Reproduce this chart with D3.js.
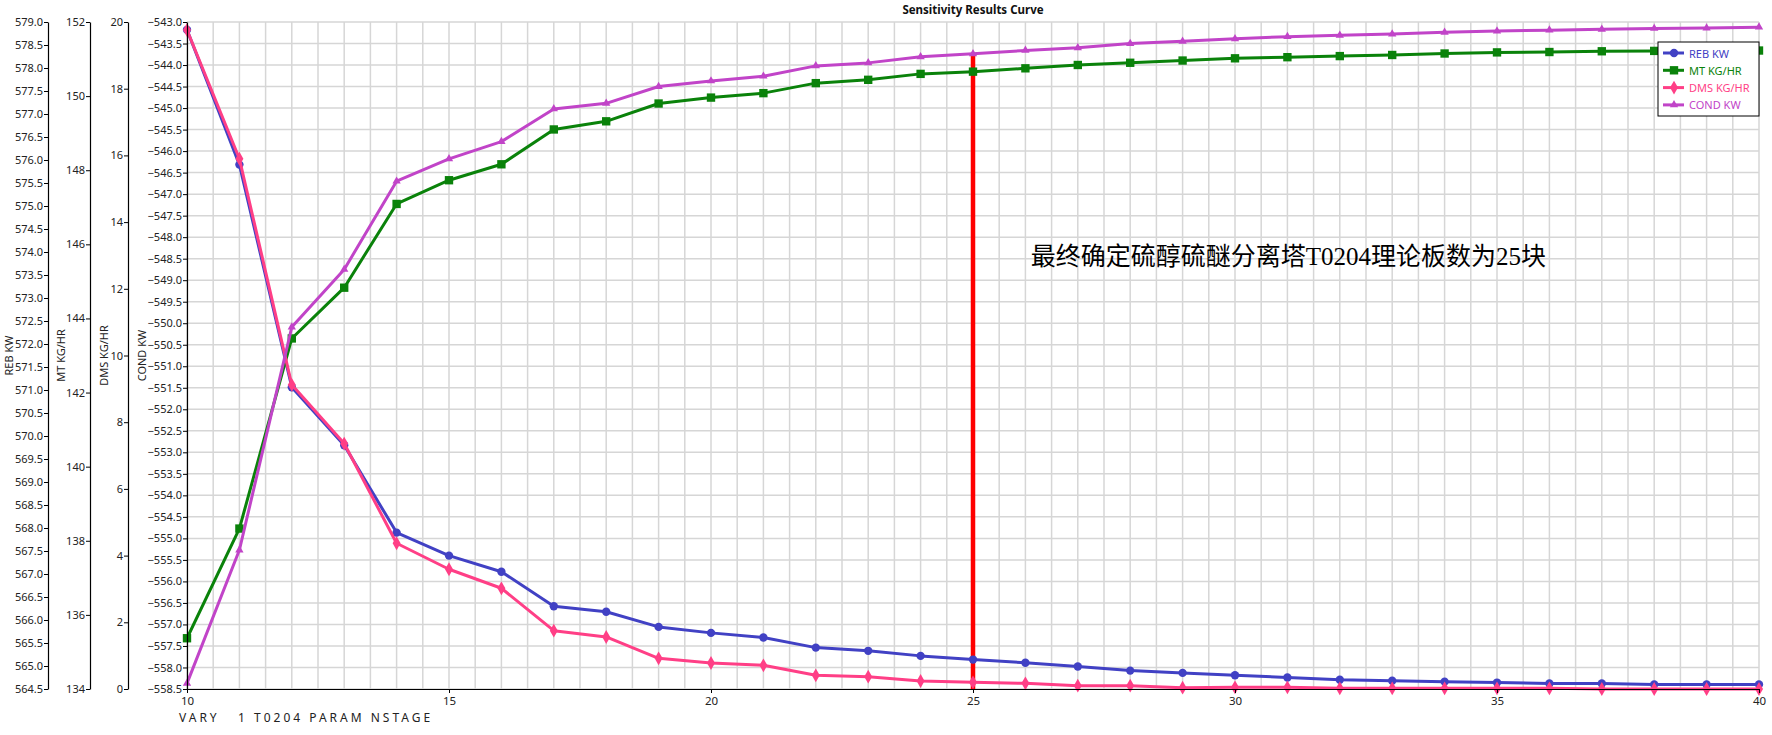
<!DOCTYPE html>
<html>
<head>
<meta charset="utf-8">
<script src="https://cdn.jsdelivr.net/npm/d3@7"></script>
<style>
  html, body { margin: 0; padding: 0; background: #fff; }
  svg { display: block; font-family: "Noto Sans", "Open Sans", sans-serif; }
</style>
</head>
<body>
<div id="chart"></div>
<script>
// ---- data ----
const stages = [10, 11, 12, 13, 14, 15, 16, 17, 18, 19, 20, 21, 22, 23, 24, 25,
  26, 27, 28, 29, 30, 31, 32, 33, 34, 35, 36, 37, 38, 39, 40];

const reb = [578.83, 575.9, 571.06, 569.8, 567.9, 567.4, 567.05, 566.3, 566.18, 565.85,
  565.72, 565.62, 565.4, 565.33, 565.22, 565.14, 565.07, 564.99, 564.9, 564.85,
  564.8, 564.75, 564.7, 564.68, 564.66, 564.64, 564.62, 564.62, 564.6, 564.6, 564.6];

const mt = [135.37, 138.33, 143.46, 144.83, 147.09, 147.73, 148.16, 149.1, 149.32, 149.8,
  149.96, 150.08, 150.35, 150.44, 150.6, 150.66, 150.75, 150.84, 150.9, 150.96,
  151.02, 151.05, 151.08, 151.11, 151.15, 151.18, 151.19, 151.21, 151.22, 151.22, 151.23];

const dms = [19.76, 15.9, 9.12, 7.36, 4.37, 3.59, 3.02, 1.75, 1.56, 0.92,
  0.78, 0.71, 0.41, 0.37, 0.24, 0.2, 0.17, 0.1, 0.1, 0.04,
  0.05, 0.05, 0.02, 0.02, 0.02, 0.02, 0.02, 0.0, 0.0, 0.0, 0.0];

const cond = [-558.37, -555.27, -550.09, -548.75, -546.7, -546.18, -545.78, -545.02, -544.89, -544.5,
  -544.37, -544.26, -544.02, -543.95, -543.81, -543.74, -543.66, -543.6, -543.5, -543.45,
  -543.39, -543.34, -543.31, -543.28, -543.24, -543.21, -543.19, -543.17, -543.15, -543.14, -543.12];

const seriesNames = ["REB KW", "MT KG/HR", "DMS KG/HR", "COND KW"];
const xTicks = [10, 15, 20, 25, 30, 35, 40];
const rebTicks = d3.range(564.5, 579.01, 0.5);
const mtTicks = [134, 136, 138, 140, 142, 144, 146, 148, 150, 152];
const dmsTicks = [0, 2, 4, 6, 8, 10, 12, 14, 16, 18, 20];
const condTicks = d3.range(-558.5, -542.99, 0.5);

const chosenStage = 25;
const noteText = "最终确定硫醇硫醚分离塔T0204理论板数为25块";
const titleText = "Sensitivity Results Curve";
const xTitle = "VARY   1 T0204 PARAM NSTAGE";

// ---- layout ----
const W = 1772, H = 735;
const m = { t: 22, r: 13, b: 46, l: 187 };
const pw = W - m.l - m.r, ph = H - m.t - m.b;

const svg = d3.select("#chart").append("svg").attr("width", W).attr("height", H);

const x = d3.scaleLinear().domain([10, 40]).range([0, pw]);
const yReb = d3.scaleLinear().domain([564.5, 579]).range([ph, 0]);
const yMt = d3.scaleLinear().domain([134, 152]).range([ph, 0]);
const yDms = d3.scaleLinear().domain([0, 20]).range([ph, 0]);
const yCond = d3.scaleLinear().domain([-558.5, -543]).range([ph, 0]);

const plotg = svg.append("g").attr("transform", `translate(${m.l},${m.t})`);

// grid
const gridColor = "#d6d6d6";
plotg.selectAll(".vgrid").data(d3.range(10, 40.01, 0.5)).join("line")
  .attr("class", "vgrid")
  .attr("x1", d => x(d)).attr("x2", d => x(d))
  .attr("y1", 0).attr("y2", ph)
  .attr("stroke", gridColor).attr("stroke-width", 1.5);
plotg.selectAll(".hgrid").data(condTicks).join("line")
  .attr("class", "hgrid")
  .attr("x1", 0).attr("x2", pw)
  .attr("y1", d => yCond(d)).attr("y2", d => yCond(d))
  .attr("stroke", gridColor).attr("stroke-width", 1.5);

// axes
const fmt1 = d3.format(".1f");
const styleAxis = (g, fs) => {
  g.selectAll("path.domain").attr("stroke", "#000").attr("stroke-width", 1.2);
  g.selectAll(".tick line").attr("stroke", "#000");
  g.selectAll(".tick text").attr("fill", "#222").style("font-size", fs)
    .style("font-family", '"Noto Sans", sans-serif');
};

const axisDefs = [
  { scale: yReb, ticks: rebTicks, fmt: fmt1, ax: 48, title: seriesNames[0], tx: 8 },
  { scale: yMt, ticks: mtTicks, fmt: d3.format("d"), ax: 90, title: "MT KG/HR", tx: 60 },
  { scale: yDms, ticks: dmsTicks, fmt: d3.format("d"), ax: 128, title: "DMS KG/HR", tx: 103 },
  { scale: yCond, ticks: condTicks, fmt: fmt1, ax: 187, title: "COND KW", tx: 141 }
];

axisDefs.forEach(a => {
  const g = svg.append("g").attr("transform", `translate(${a.ax},${m.t})`)
    .call(d3.axisLeft(a.scale).tickValues(a.ticks).tickFormat(a.fmt).tickSize(4).tickPadding(1).tickSizeOuter(0));
  styleAxis(g, "11px");
  svg.append("text")
    .attr("transform", `translate(${a.tx},${m.t + ph / 2}) rotate(-90)`)
    .attr("text-anchor", "middle").attr("dominant-baseline", "central")
    .style("font-size", "11px").attr("fill", "#222")
    .text(a.title);
});

const xg = svg.append("g").attr("transform", `translate(${m.l},${m.t + ph})`)
  .call(d3.axisBottom(x).tickValues(xTicks).tickFormat(d3.format("d")).tickSize(4).tickPadding(4).tickSizeOuter(0));
styleAxis(xg, "11.5px");

svg.append("text")
  .attr("x", m.l - 8).attr("y", H - 13)
  .style("font-size", "12px").style("letter-spacing", "3px").attr("fill", "#222")
  .attr("xml:space", "preserve")
  .text(xTitle);

svg.append("text")
  .attr("x", m.l + pw / 2).attr("y", 14)
  .attr("text-anchor", "middle")
  .style("font-size", "11.5px").style("font-weight", "bold").attr("fill", "#111")
  .text(titleText);

// red marker line at chosen stage
const ci = stages.indexOf(chosenStage);
plotg.append("line")
  .attr("x1", x(chosenStage)).attr("x2", x(chosenStage))
  .attr("y1", yCond(cond[ci])).attr("y2", ph)
  .attr("stroke", "#ff0000").attr("stroke-width", 4.5);

// series
const series = [
  { name: seriesNames[0], vals: reb, y: yReb, color: "#4141c4", sym: d3.symbolCircle, size: 55 },
  { name: seriesNames[1], vals: mt, y: yMt, color: "#0a820a", sym: d3.symbolSquare, size: 70 },
  { name: seriesNames[2], vals: dms, y: yDms, color: "#ff3f86", sym: d3.symbolDiamond, size: 55 },
  { name: seriesNames[3], vals: cond, y: yCond, color: "#c144c8", sym: d3.symbolTriangle, size: 30 }
];

series.forEach(s => {
  const pts = stages.map((st, i) => [st, s.vals[i]]);
  const line = d3.line().x(d => x(d[0])).y(d => s.y(d[1]));
  plotg.append("path").datum(pts)
    .attr("d", line).attr("fill", "none")
    .attr("stroke", s.color).attr("stroke-width", 3).attr("stroke-linejoin", "round");
  plotg.selectAll(null).data(pts).join("path")
    .attr("transform", d => `translate(${x(d[0])},${s.y(d[1])})`)
    .attr("d", d3.symbol().type(s.sym).size(s.size))
    .attr("fill", s.color);
});

// annotation
plotg.append("text")
  .attr("x", x(26.1)).attr("y", yCond(-548.45))
  .attr("dominant-baseline", "central")
  .style("font-family", '"Liberation Serif", "Noto Sans CJK SC", serif')
  .style("font-size", "25px").attr("fill", "#000")
  .text(noteText);

// legend
const lg = svg.append("g").attr("transform", `translate(${W - m.r - 101},42)`);
lg.append("rect").attr("width", 101).attr("height", 74)
  .attr("fill", "#fff").attr("stroke", "#000").attr("stroke-width", 1);
series.forEach((s, i) => {
  const row = lg.append("g").attr("transform", `translate(0,${11 + i * 17.3})`);
  row.append("line").attr("x1", 5).attr("x2", 26).attr("y1", 0).attr("y2", 0)
    .attr("stroke", s.color).attr("stroke-width", 3);
  row.append("path").attr("transform", "translate(16,0)")
    .attr("d", d3.symbol().type(s.sym).size(s.size)).attr("fill", s.color);
  row.append("text").attr("x", 31).attr("y", 0).attr("dominant-baseline", "central")
    .style("font-size", "11px").attr("fill", s.color).text(s.name);
});
</script>
</body>
</html>
